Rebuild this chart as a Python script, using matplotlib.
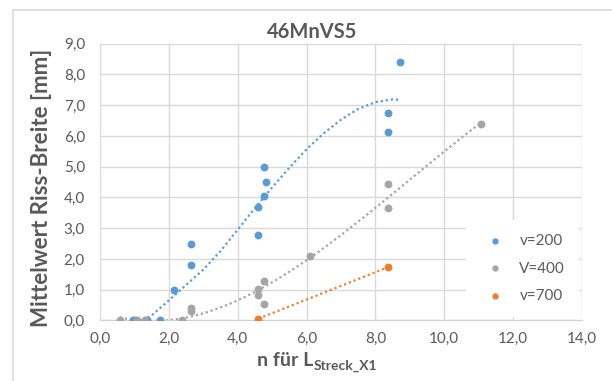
import numpy as np
import matplotlib
matplotlib.use("Agg")
import matplotlib.pyplot as plt
from matplotlib.ticker import FuncFormatter, MultipleLocator
from matplotlib.patches import Rectangle

plt.rcParams['font.family'] = ['Lato', 'DejaVu Sans']

# Data
x_200 = [0.95, 1.0, 1.35, 1.73, 2.14, 2.64, 2.64, 4.60, 4.60, 4.76, 4.82, 4.76, 8.36, 8.36, 8.73]
y_200 = [0.0, 0.0, 0.0, 0.0, 1.0, 1.79, 2.50, 2.79, 3.69, 4.04, 4.49, 4.99, 6.14, 6.74, 8.42]

x_400 = [0.57, 1.06, 1.30, 2.37, 2.64, 2.64, 4.60, 4.60, 4.76, 4.76, 6.10, 8.36, 8.36, 11.07]
y_400 = [0.0, 0.0, 0.0, 0.0, 0.30, 0.41, 0.84, 1.03, 0.55, 1.30, 2.11, 3.67, 4.45, 6.39]

x_700 = [4.60, 8.36]
y_700 = [0.06, 1.73]

# Excel trendline for v=200
trend_x_200 = [1.25, 1.5, 2.0, 2.5, 3.0, 3.5, 4.0, 4.5, 5.0, 5.5, 6.0, 6.5, 7.0, 7.5, 8.0, 8.5, 8.73]
trend_y_200 = [0.0, 0.17, 0.66, 1.16, 1.66, 2.26, 2.96, 3.66, 4.33, 4.97, 5.57, 6.09, 6.53, 6.88, 7.10, 7.19, 7.17]

labels = ['v=200', 'V=400', 'v=700']
colors = ['#5B9BD5', '#A5A5A5', '#ED7D31']

text_col = '#595959'
dotted = (0, (1, 1.3))

fig = plt.figure(figsize=(6.12, 3.81), dpi=100)
fig.patches.append(Rectangle((0.022, -0.1), 1.0, 1.075, transform=fig.transFigure,
                             fill=False, edgecolor='#D9D9D9', linewidth=1.2))
ax = fig.add_axes([0.1639, 0.1588, 0.7866, 0.7265])

# scatter points
ax.scatter(x_200, y_200, s=32, color=colors[0], label=labels[0], zorder=3, linewidths=0)
ax.scatter(x_400, y_400, s=32, color=colors[1], label=labels[1], zorder=3, linewidths=0)
ax.scatter(x_700, y_700, s=32, color=colors[2], label=labels[2], zorder=3, linewidths=0)

# trendlines
ax.plot(trend_x_200, trend_y_200, color=colors[0], linewidth=1.6, linestyle=dotted, zorder=2)
xx = np.linspace(min(x_400), max(x_400), 200)
ax.plot(xx, np.polyval(np.polyfit(x_400, y_400, 3), xx), color=colors[1],
        linewidth=1.6, linestyle=dotted, zorder=2)
xx = np.linspace(min(x_700), max(x_700), 50)
ax.plot(xx, np.polyval(np.polyfit(x_700, y_700, 1), xx), color=colors[2],
        linewidth=1.6, linestyle=dotted, zorder=2)

ax.set_xlim(0, 14)
ax.set_ylim(0, 9)
ax.xaxis.set_major_locator(MultipleLocator(2))
ax.yaxis.set_major_locator(MultipleLocator(1))
fmt = FuncFormatter(lambda v, p: f'{v:.1f}'.replace('.', ','))
ax.xaxis.set_major_formatter(fmt)
ax.yaxis.set_major_formatter(fmt)
ax.grid(True, color='#D9D9D9', linewidth=1.0)
ax.set_axisbelow(True)
for s in ['top', 'right', 'left']:
    ax.spines[s].set_visible(False)
ax.spines['bottom'].set_color('#D0D0D0')
ax.tick_params(length=0, labelsize=11, labelcolor=text_col)
ax.tick_params(axis='x', pad=8)
ax.tick_params(axis='y', pad=11)

fig.text(0.51, 0.8995, '46MnVS5', fontsize=14.5, fontweight='bold', color=text_col,
         ha='center', va='baseline')
ax.set_ylabel('Mittelwert Riss-Breite [mm]', fontsize=16, fontweight='bold', color=text_col)
ax.yaxis.set_label_coords(-0.10, 0.48)

xl = fig.text(257 / 612, 1 - 366.5 / 381, 'n für L', fontsize=14, fontweight='bold',
              color=text_col, ha='left', va='baseline')
ax.annotate('Streck_X1', xy=(1, 0), xycoords=xl, xytext=(0.5, -1.5), textcoords='offset points',
            fontsize=10, fontweight='bold', color=text_col, ha='left', va='bottom',
            annotation_clip=False)

leg = ax.legend(loc='lower right', bbox_to_anchor=(1.01, -0.015), frameon=True, fontsize=11,
                labelcolor=text_col, handletextpad=0.6, labelspacing=0.9,
                borderpad=0.9, markerscale=0.8)
leg.get_frame().set_edgecolor('none')
leg.get_frame().set_facecolor('white')
leg.get_frame().set_alpha(1)

fig.savefig('out.png', dpi=100)
